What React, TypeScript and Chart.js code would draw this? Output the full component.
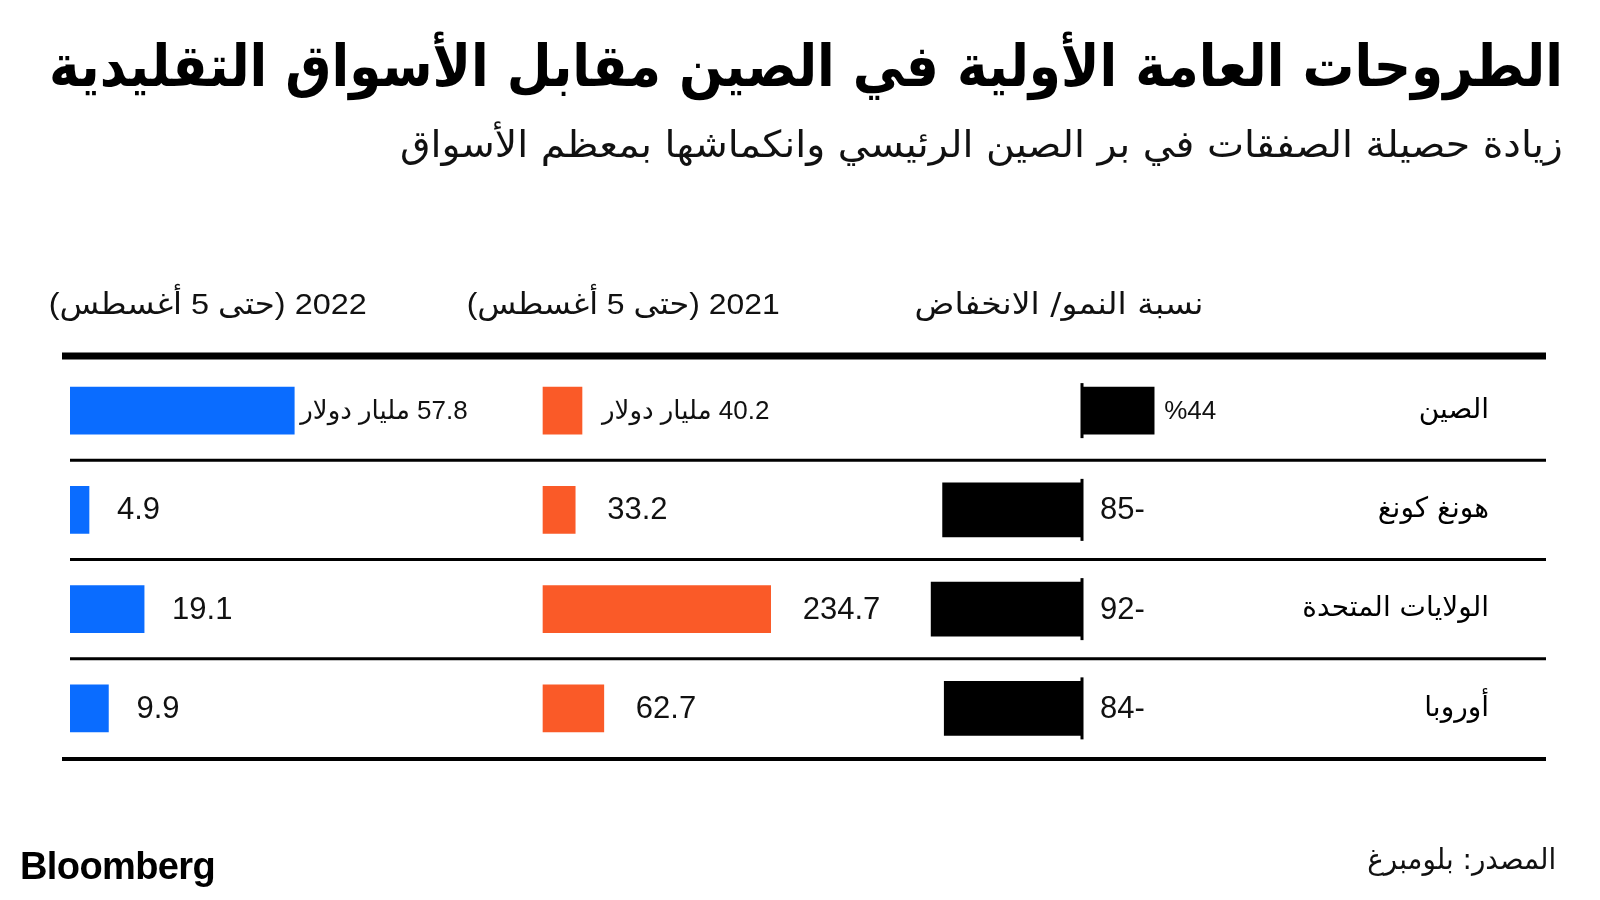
import React, { useEffect, useLayoutEffect, useRef } from 'react';
import { Chart, registerables } from 'chart.js';

Chart.register(...registerables);

// ---------- data ----------
const categories = ['الصين', 'هونغ كونغ', 'الولايات المتحدة', 'أوروبا'];
const ipo2022 = [57.8, 4.9, 19.1, 9.9];
const ipo2021 = [40.2, 33.2, 234.7, 62.7];
const growthPct = [44, -85, -92, -84];
const columnHeaders = ['2022 (حتى 5 أغسطس)', '2021 (حتى 5 أغسطس)', 'نسبة النمو/ الانخفاض'];
const unitSuffix = 'مليار دولار';
const titleText = 'الطروحات العامة الأولية في الصين مقابل الأسواق التقليدية';
const subtitleText = 'زيادة حصيلة الصفقات في بر الصين الرئيسي وانكماشها بمعظم الأسواق';
const sourceText = 'المصدر: بلومبرغ';

// ---------- layout / style ----------
const W = 1600;
const H = 900;
const AREA = { left: 70, right: 1260, top: 361, bottom: 758 };
const BLUE = '#0A6CFF';
const ORANGE = '#FA5A28';
const AR_FONT = '"DejaVu Sans", sans-serif';
const NUM_FONT = '"Liberation Sans", "DejaVu Sans", sans-serif';

function rangeFor(zeroPx: number, pxPerUnit: number) {
  return {
    min: -(zeroPx - AREA.left) / pxPerUnit,
    max: (AREA.right - zeroPx) / pxPerUnit,
  };
}

const fmtMoney = (v: number, i: number) => (i === 0 ? `${v} ${unitSuffix}` : `${v}`);
const fmtGrowth = (v: number) => (v >= 0 ? `%${v}` : `${v}`);

const decorPlugin = {
  id: 'decor',
  beforeDatasetsDraw(chart: any) {
    const { ctx, chartArea } = chart;
    const y = chart.scales.y;
    const n = categories.length;
    const step = (chartArea.bottom - chartArea.top) / n;
    ctx.save();
    ctx.fillStyle = '#000';
    // header rule
    ctx.fillRect(62, y.getPixelForValue(0) - step / 2 - 8.5, 1546 - 62, 7);
    for (let i = 0; i < n; i++) {
      const yy = y.getPixelForValue(i) + step / 2;
      if (i < n - 1) ctx.fillRect(70, yy - 1.5, 1546 - 70, 3);
      else ctx.fillRect(62, yy - 1, 1546 - 62, 4);
    }
    ctx.restore();
  },
  afterDatasetsDraw(chart: any) {
    const { ctx } = chart;
    const y = chart.scales.y;
    ctx.save();
    // zero lines for growth column
    const gz = chart.scales.xGrowth.getPixelForValue(0);
    [2, 3].forEach((d) => {
      const meta = chart.getDatasetMeta(d);
      meta.data.forEach((el: any, i: number) => {
        const v = chart.data.datasets[d].data[i];
        if (v === null || v === undefined) return;
        const half = el.height / 2 + 4;
        ctx.fillStyle = '#000';
        ctx.fillRect(gz - 1.5, el.y - half, 3, half * 2);
      });
    });
    // value labels
    const specs = [
      { d: 0, fmt: fmtMoney, gap: [6, 28, 28, 28] },
      { d: 1, fmt: fmtMoney, gap: [20, 32, 32, 32] },
      { d: 2, fmt: (v: number) => fmtGrowth(v), gap: [10, 18, 18, 18] },
      { d: 3, fmt: (v: number) => fmtGrowth(v), gap: [10, 18, 18, 18] },
    ];
    ctx.fillStyle = '#111';
    ctx.textBaseline = 'middle';
    ctx.textAlign = 'left';
    ctx.direction = 'rtl';
    specs.forEach(({ d, fmt, gap }) => {
      const meta = chart.getDatasetMeta(d);
      meta.data.forEach((el: any, i: number) => {
        const v = chart.data.datasets[d].data[i];
        if (v === null || v === undefined) return;
        const end = Math.max(el.x, el.base);
        ctx.font = `${i === 0 ? 26 : 31}px ${NUM_FONT}`;
        ctx.fillText(fmt(v, i), end + gap[i], el.y + 1);
      });
    });
    // category labels
    ctx.font = `28px ${AR_FONT}`;
    ctx.textAlign = 'right';
    ctx.fillStyle = '#000';
    categories.forEach((c, i) => {
      ctx.fillText(c, 1489, y.getPixelForValue(i));
    });
    ctx.restore();
  },
};

function ChartCanvas() {
  const ref = useRef<HTMLCanvasElement>(null);
  useEffect(() => {
    const canvas = ref.current;
    if (!canvas) return;
    const chart = new Chart(canvas, {
      type: 'bar',
      data: {
        labels: categories,
        datasets: [
          { label: '2022', data: ipo2022, xAxisID: 'x2022', backgroundColor: BLUE, barThickness: 47, grouped: false } as any,
          { label: '2021', data: ipo2021, xAxisID: 'x2021', backgroundColor: ORANGE, barThickness: 47, grouped: false } as any,
          { label: 'growth', data: growthPct.map((v, i) => (i === 0 ? v : null)), xAxisID: 'xGrowth', backgroundColor: '#000', barThickness: 47, grouped: false } as any,
          { label: 'growth', data: growthPct.map((v, i) => (i === 0 ? null : v)), xAxisID: 'xGrowth', backgroundColor: '#000', barThickness: 54, grouped: false } as any,
        ],
      },
      options: {
        indexAxis: 'y',
        responsive: false,
        animation: false,
        devicePixelRatio: 1,
        layout: { padding: { left: AREA.left, right: W - AREA.right, top: AREA.top, bottom: H - AREA.bottom } },
        plugins: { legend: { display: false }, tooltip: { enabled: false }, title: { display: false } },
        scales: {
          y: { type: 'category', display: false, offset: true, grid: { display: false } },
          x2022: { type: 'linear', display: false, ...rangeFor(70, 3.88) },
          x2021: { type: 'linear', display: false, ...rangeFor(543, 0.97) },
          xGrowth: { type: 'linear', display: false, ...rangeFor(1082, 1.64) },
        },
      } as any,
      plugins: [decorPlugin],
    });
    return () => chart.destroy();
  }, []);
  return <canvas ref={ref} width={W} height={H} style={{ position: 'absolute', left: 0, top: 0, width: W, height: H }} />;
}

const abs = (s: React.CSSProperties): React.CSSProperties => ({ position: 'absolute', whiteSpace: 'nowrap', margin: 0, ...s });

// RTL text whose right edge sits at `right` and whose width is squeezed to `width`
function FitText(props: { text: string; right: number; top: number; width: number; font: string; color?: string }) {
  const ref = useRef<HTMLDivElement>(null);
  useLayoutEffect(() => {
    const el = ref.current;
    if (!el) return;
    el.style.transform = 'none';
    const w = el.getBoundingClientRect().width;
    if (w > 0) el.style.transform = `scaleX(${props.width / w})`;
  }, [props.text, props.width, props.font]);
  return (
    <div
      ref={ref}
      dir="rtl"
      style={abs({ right: W - props.right, top: props.top, font: props.font, color: props.color || '#111', transformOrigin: 'right center' })}
    >
      {props.text}
    </div>
  );
}

export default function App() {
  return (
    <div style={{ position: 'absolute', left: 0, top: 0, width: W, height: H, background: '#fff', overflow: 'hidden' }}>
      <ChartCanvas />
      <FitText text={titleText} right={1563} top={34} width={1514} font={`bold 58px/64px ${AR_FONT}`} color="#000" />
      <FitText text={subtitleText} right={1563} top={122} width={1163} font={`37px/46px ${AR_FONT}`} />
      <FitText text={columnHeaders[0]} right={367} top={285} width={318} font={`30px/38px ${NUM_FONT}`} />
      <FitText text={columnHeaders[1]} right={780} top={285} width={313} font={`30px/38px ${NUM_FONT}`} />
      <FitText text={columnHeaders[2]} right={1204} top={285} width={289} font={`30px/38px ${AR_FONT}`} />
      <div style={abs({ left: 20, top: 845, font: `bold 38px/42px "Liberation Sans", sans-serif`, color: '#000', letterSpacing: -0.6 })}>Bloomberg</div>
      <FitText text={sourceText} right={1556} top={840} width={189} font={`29px/38px ${AR_FONT}`} />
    </div>
  );
}
